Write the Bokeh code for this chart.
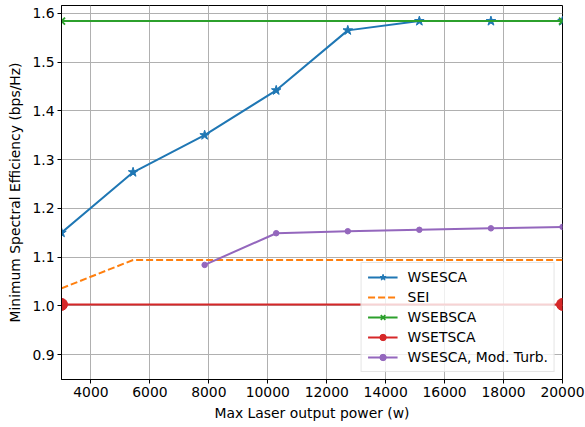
from bokeh.plotting import figure
from bokeh.models import Range1d, FixedTicker, NumeralTickFormatter, Legend
from bokeh.embed import file_html
from bokeh.resources import INLINE

# ---- data ----
power = [3000, 5428.6, 7857.1, 10285.7, 12714.3, 15142.9, 17571.4, 20000]
wsesca = [1.150, 1.274, 1.350, 1.442, 1.565, 1.584, 1.584, 1.584]
sei = [1.036, 1.094, 1.094, 1.094, 1.094, 1.094, 1.094, 1.094]
wsebsca_x = [3000, 20000]
wsebsca = [1.584, 1.584]
wsetsca_x = [3000, 20000]
wsetsca = [1.003, 1.003]
modturb_x = [7857.1, 10285.7, 12714.3, 15142.9, 17571.4, 20000]
modturb = [1.084, 1.149, 1.153, 1.156, 1.159, 1.162]
x_ticks = [4000, 6000, 8000, 10000, 12000, 14000, 16000, 18000, 20000]
y_ticks = [0.9, 1.0, 1.1, 1.2, 1.3, 1.4, 1.5, 1.6]

FONT = "DejaVu Sans"
FS = "13.9px"

p = figure(width=585, height=427, output_backend="svg", toolbar_location=None,
           x_range=Range1d(3000, 20000), y_range=Range1d(0.849, 1.616),
           min_border_left=61, min_border_right=23, min_border_top=5, min_border_bottom=48)

p.outline_line_color = "black"
p.outline_line_width = 1
p.background_fill_color = "white"
p.border_fill_color = "white"

for ax in (p.xaxis[0], p.yaxis[0]):
    ax.major_label_text_font = FONT
    ax.major_label_text_font_size = FS
    ax.major_label_text_color = "black"
    ax.axis_label_text_font = FONT
    ax.axis_label_text_font_size = FS
    ax.axis_label_text_font_style = "normal"
    ax.axis_label_text_color = "black"
    ax.minor_tick_line_color = None
    ax.major_tick_in = 0
    ax.major_tick_out = 4
    ax.major_tick_line_color = "black"
    ax.axis_line_color = "black"
    ax.major_label_standoff = 3

p.xaxis.ticker = FixedTicker(ticks=x_ticks)
p.yaxis.ticker = FixedTicker(ticks=y_ticks)
p.yaxis.formatter = NumeralTickFormatter(format="0.0")
p.xaxis.formatter = NumeralTickFormatter(format="0")
p.xaxis.axis_label = "Max Laser output power (w)"
p.yaxis.axis_label = "Minimum Spectral Efficiency (bps/Hz)"
p.xaxis.axis_label_standoff = 5
p.yaxis.axis_label_standoff = 6

p.grid.grid_line_color = "#b0b0b0"
p.grid.grid_line_width = 1

C_BLUE, C_ORANGE, C_GREEN, C_RED, C_PURPLE = "#1f77b4", "#ff7f0e", "#2ca02c", "#d62728", "#9467bd"
LW = 2

r1l = p.line(power, wsesca, line_color=C_BLUE, line_width=LW)
r1m = p.scatter(power, wsesca, marker="star", size=10, color=C_BLUE)
r2l = p.line(power, sei, line_color=C_ORANGE, line_width=LW, line_dash="7 3")
r3l = p.line(wsebsca_x, wsebsca, line_color=C_GREEN, line_width=LW)
r3m = p.scatter(wsebsca_x, wsebsca, marker="x", size=10, line_color=C_GREEN, line_width=1.8)
r4l = p.line(wsetsca_x, wsetsca, line_color=C_RED, line_width=LW)
r4m = p.scatter(wsetsca_x, wsetsca, marker="circle", size=12, color=C_RED)
r5l = p.line(modturb_x, modturb, line_color=C_PURPLE, line_width=LW)
r5m = p.scatter(modturb_x, modturb, marker="circle", size=5.5, color=C_PURPLE)

legend = Legend(items=[
    ("WSESCA", [r1l, r1m]),
    ("SEI", [r2l]),
    ("WSEBSCA", [r3l, r3m]),
    ("WSETSCA", [r4l, r4m]),
    ("WSESCA, Mod. Turb.", [r5l, r5m]),
], location="bottom_right")
legend.label_text_font = FONT
legend.label_text_font_size = FS
legend.label_text_color = "black"
legend.glyph_width = 30
legend.glyph_height = 16
legend.label_height = 16
legend.spacing = 4
legend.padding = 6
legend.margin = 7
legend.label_standoff = 10
legend.border_line_color = "#cccccc"
legend.border_line_width = 1
legend.background_fill_color = "white"
legend.background_fill_alpha = 0.8
p.add_layout(legend, "center")

open("out.html", "w").write(file_html(p, INLINE))
